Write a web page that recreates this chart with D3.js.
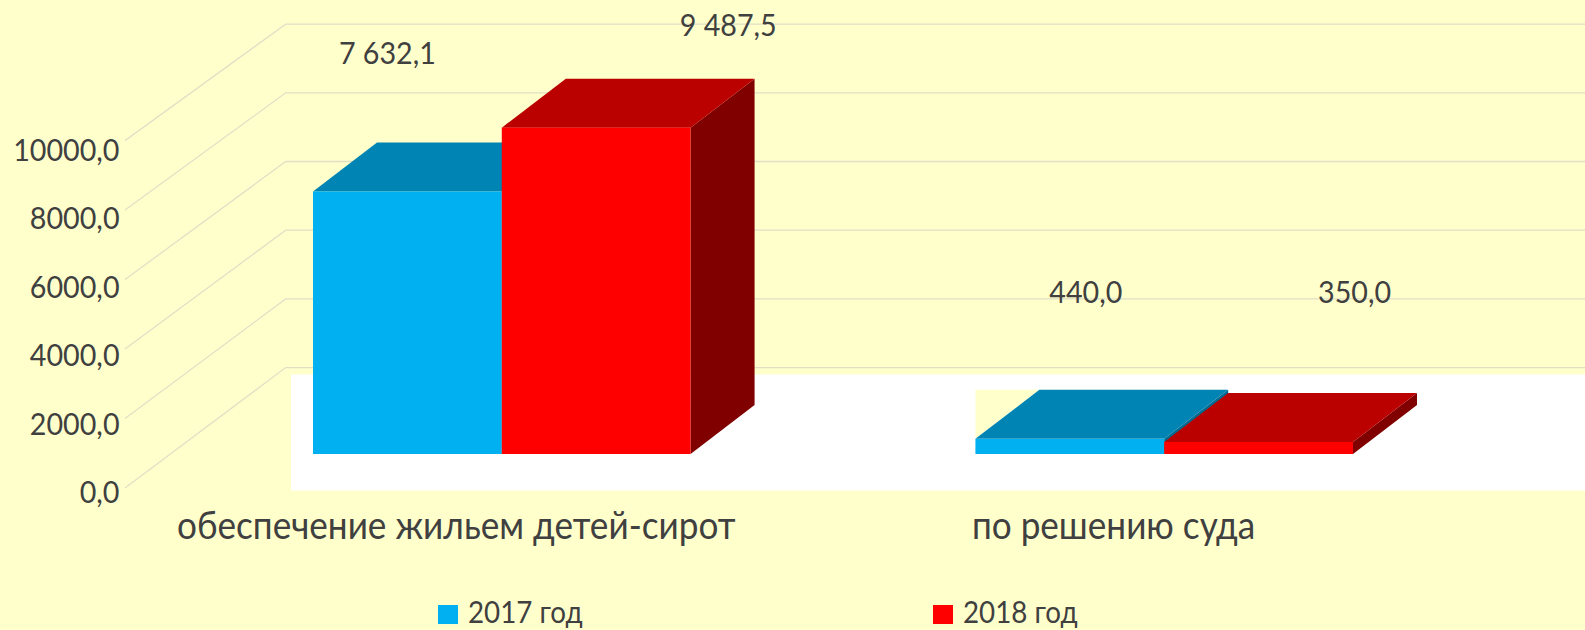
<!DOCTYPE html>
<html>
<head>
<meta charset="utf-8">
<script src="https://cdn.jsdelivr.net/npm/d3@7"></script>
<style>
  html, body { margin: 0; padding: 0; background: #ffffcc; overflow: hidden; }
  svg { display: block; }
  text { font-family: Lato, "Open Sans", sans-serif; fill: #404040; }
</style>
</head>
<body>
<svg width="1585" height="630"></svg>
<script>
const categories = ["обеспечение жильем детей-сирот", "по решению суда"];
const seriesNames = ["2017 год", "2018 год"];
const values2017 = [7632.1, 440.0];
const values2018 = [9487.5, 350.0];
const valueLabels = [["7 632,1", "440,0"], ["9 487,5", "350,0"]];
const tickValues = [0, 2000, 4000, 6000, 8000, 10000];
const tickLabels = ["0,0", "2000,0", "4000,0", "6000,0", "8000,0", "10000,0"];

const svg = d3.select("svg");
const fontSize = 31;

const faceColor = ["#00b0f0", "#ff0000"];
const topColor = ["#0084b4", "#bb0000"];
const sideColor = ["#006a90", "#800000"];

// depth of the bars on the floor
const depthX = 64, depthY = 49;

const x0 = d3.scaleBand().domain(categories).range([313, 1353]).paddingInner(0.43).paddingOuter(0);
const x1 = d3.scaleBand().domain(seriesNames).range([0, x0.bandwidth()]);

const y = d3.scaleLinear().domain([0, 10000]).range([454, 110]);
const yBack = d3.scaleLinear().domain([0, 10000]).range([367.6, 24.1]);
const yFront = d3.scaleLinear().domain([0, 10000]).range([488, 140.6]);
const yTicks = d3.scaleLinear().domain([0, 10000]).range([493, 150.5]);

const backX = 285.7, frontX = 125;

// the original text is tall and narrow, squeeze it sideways
function squeeze(sel) {
  sel.each(function() {
    this.setAttribute("textLength", this.getComputedTextLength() * 0.925);
    this.setAttribute("lengthAdjust", "spacingAndGlyphs");
  });
}

// walls
const grid = svg.append("g").attr("stroke", "#e0e0c6").attr("stroke-width", 1.3).attr("fill", "none");
grid.selectAll("path")
  .data(tickValues)
  .join("path")
  .attr("d", d => `M${frontX},${yFront(d)}L${backX},${yBack(d)}L1585,${yBack(d)}`);

// floor
svg.append("rect").attr("x", 291).attr("y", 374.5).attr("width", 1294).attr("height", 116).attr("fill", "#fff");

// yellow leftover behind the low blue bar
const lowX = x0(categories[1]);
svg.append("path")
  .attr("d", `M${lowX},${y(values2017[1]) - depthY}h${depthX}L${lowX},${y(values2017[1])}Z`)
  .attr("fill", "#ffffcc");

const rows = [];
seriesNames.forEach((s, si) => {
  const vals = si === 0 ? values2017 : values2018;
  categories.forEach((c, ci) => rows.push({cat: c, series: s, si, ci, value: vals[ci]}));
});

const bars = svg.append("g").selectAll("g")
  .data(rows)
  .join("g");

// side
bars.append("path")
  .attr("fill", d => sideColor[d.si])
  .attr("d", d => {
    const r = x0(d.cat) + x1(d.series) + x1.bandwidth();
    return `M${r},${y(d.value)}l${depthX},${-depthY}V${y(0) - depthY}L${r},${y(0)}Z`;
  });

// top
bars.append("path")
  .attr("fill", d => topColor[d.si])
  .attr("d", d => {
    const l = x0(d.cat) + x1(d.series);
    return `M${l},${y(d.value)}l${depthX},${-depthY}h${x1.bandwidth()}l${-depthX},${depthY}Z`;
  });

// front
bars.append("rect")
  .attr("x", d => x0(d.cat) + x1(d.series))
  .attr("y", d => y(d.value))
  .attr("width", x1.bandwidth())
  .attr("height", d => y(0) - y(d.value))
  .attr("fill", d => faceColor[d.si]);

// the labels were dragged by hand in the original, so they sit away from the bars
const labelShift = [[[-20, -127], [16, -136]], [[132, -92], [96, -139]]];
svg.append("g").selectAll("text")
  .data(rows)
  .join("text")
  .attr("text-anchor", "middle")
  .attr("font-size", fontSize)
  .attr("x", d => x0(d.cat) + x1(d.series) + x1.bandwidth() / 2 + labelShift[d.si][d.ci][0])
  .attr("y", d => y(d.value) + labelShift[d.si][d.ci][1])
  .text(d => valueLabels[d.si][d.ci])
  .call(squeeze);

// value axis
const axis = svg.append("g")
  .attr("transform", "translate(119.5,0)")
  .call(d3.axisLeft(yTicks).tickValues(tickValues).tickSize(0).tickPadding(0)
    .tickFormat((d, i) => tickLabels[i]));
axis.select(".domain").remove();
axis.attr("font-family", null);
axis.selectAll("text").attr("font-size", fontSize).call(squeeze);

// category labels
svg.append("g").selectAll("text")
  .data(categories)
  .join("text")
  .attr("x", d => x0(d) - 136 + (d === categories[1] ? 132.5 : 0))
  .attr("y", 538.5)
  .attr("font-size", 38)
  .text(d => d)
  .call(squeeze);

// Legend
const legend = svg.append("g").selectAll("g")
  .data(seriesNames)
  .join("g")
  .attr("transform", (d, i) => `translate(${438 + i * 495},605)`);

legend.append("rect")
  .attr("width", 20)
  .attr("height", 19)
  .attr("fill", (d, i) => faceColor[i]);

// baseline kept high enough that the descender of "д" stays on the page
legend.append("text")
  .attr("x", 30)
  .attr("y", 18)
  .attr("font-size", 30)
  .text(d => d)
  .call(squeeze);
</script>
</body>
</html>
